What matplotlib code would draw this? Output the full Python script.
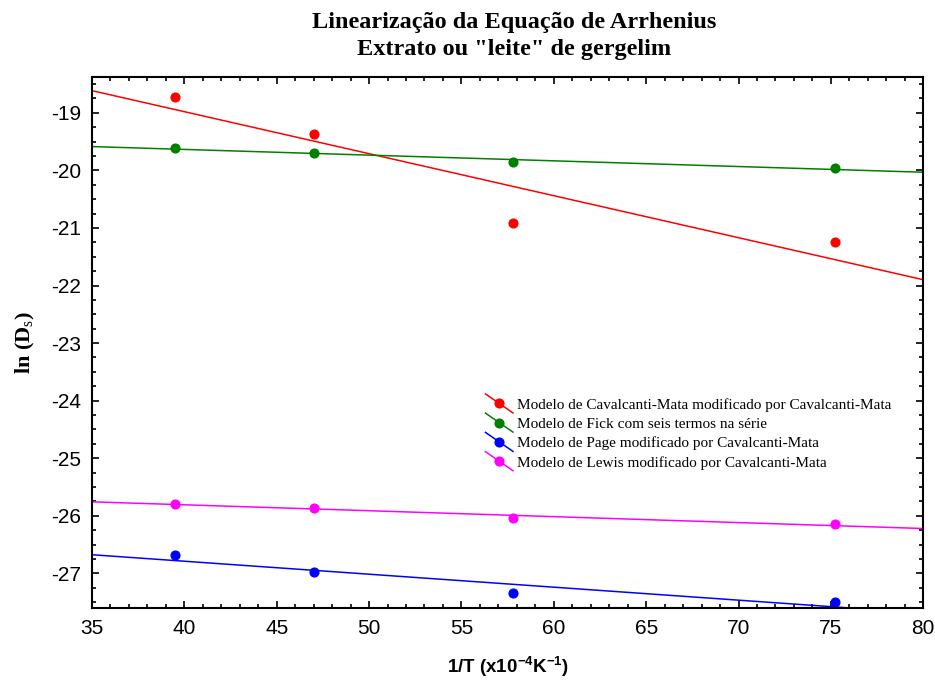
import numpy as np
import matplotlib
matplotlib.use("Agg")
import matplotlib.pyplot as plt
from matplotlib.lines import Line2D
from matplotlib.legend_handler import HandlerBase
from matplotlib.ticker import AutoMinorLocator

plt.rcParams["axes.unicode_minus"] = False
plt.rcParams["mathtext.fontset"] = "custom"
plt.rcParams["mathtext.rm"] = "Liberation Serif"
plt.rcParams["mathtext.bf"] = "Liberation Sans:bold"

# dados
inv_T = [39.5, 47.0, 57.8, 75.2]

ln_cavalcanti = [-18.73, -19.37, -20.91, -21.25]
ln_fick = [-19.61, -19.70, -19.86, -19.96]
ln_page = [-26.68, -26.98, -27.34, -27.50]
ln_lewis = [-25.79, -25.87, -26.04, -26.15]

series_names = [
    "Modelo de Cavalcanti-Mata modificado por Cavalcanti-Mata",
    "Modelo de Fick com seis termos na série",
    "Modelo de Page modificado por Cavalcanti-Mata",
    "Modelo de Lewis modificado por Cavalcanti-Mata",
]
series_colors = ["#ff0000", "#008000", "#0000ff", "#ff00ff"]

x_ticks = [35, 40, 45, 50, 55, 60, 65, 70, 75, 80]
y_ticks = [-27, -26, -25, -24, -23, -22, -21, -20, -19]


class DiagHandler(HandlerBase):
    # linha diagonal com o ponto no meio, como no original
    def create_artists(self, legend, orig, xdescent, ydescent, width, height,
                       fontsize, trans):
        x0, x1 = -xdescent, width - xdescent
        y0, y1 = height - ydescent + 3, -ydescent - 3
        line = Line2D([x0, x1], [y0, y1], color=orig.get_color(), lw=1.1)
        dot = Line2D([(x0 + x1) / 2], [(y0 + y1) / 2], marker="o",
                     color=orig.get_color(), ms=6.3, lw=0)
        line.set_transform(trans)
        dot.set_transform(trans)
        return [line, dot]


fig = plt.figure(figsize=(9.35, 6.83), dpi=100)
ax = fig.add_axes([0.0984, 0.110, 0.889, 0.777])

all_series = [ln_cavalcanti, ln_fick, ln_page, ln_lewis]
xfit = np.array([35, 80])
handles = []
for ys, name, col in zip(all_series, series_names, series_colors):
    a, b = np.polyfit(inv_T, ys, 1)
    ax.plot(xfit, a * xfit + b, color=col, lw=1.1)
    ax.plot(inv_T, ys, "o", color=col, ms=6.3)
    handles.append(Line2D([], [], color=col, label=name))

ax.set_xlim(35, 80)
ax.set_ylim(-27.6, -18.38)
ax.set_xticks(x_ticks)
ax.set_yticks(y_ticks)
ax.xaxis.set_minor_locator(AutoMinorLocator(5))
ax.yaxis.set_minor_locator(AutoMinorLocator(4))
ax.tick_params(which="both", direction="in", top=True, right=True,
               labelsize=15, labelfontfamily="Liberation Sans", width=1.2)
ax.tick_params(which="major", length=5, pad=8)
ax.tick_params(which="minor", length=3)
for s in ax.spines.values():
    s.set_linewidth(1.5)

ax.set_title("Linearização da Equação de Arrhenius\nExtrato ou \"leite\" de gergelim",
             family="Liberation Serif", fontweight="bold", fontsize=17.5,
             linespacing=1.35, pad=16, x=0.508)
ax.set_xlabel(r"1/T (x10$^{\mathbf{-4}}$K$^{\mathbf{-1}}$)", family="Liberation Sans",
              fontweight="bold", fontsize=13.5, labelpad=12)
ax.set_ylabel(r"ln (D$_{\mathrm{s}}$)", family="Liberation Serif",
              fontweight="bold", fontsize=16, labelpad=10)

ax.legend(handles=handles, handler_map={Line2D: DiagHandler()},
          loc="upper left", bbox_to_anchor=(0.466, 0.407), frameon=False,
          prop={"family": "Liberation Serif", "size": 11},
          handlelength=1.8, handletextpad=0.25, labelspacing=0.36,
          borderaxespad=0)

fig.savefig("out.png", dpi=100)
